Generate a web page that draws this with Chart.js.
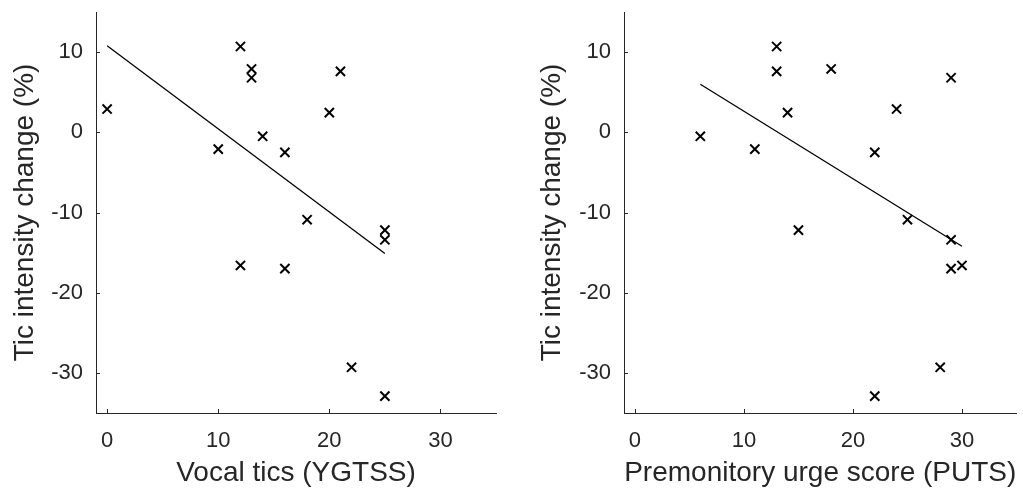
<!DOCTYPE html>
<html>
<head>
<meta charset="utf-8">
<script src="https://cdn.jsdelivr.net/npm/chart.js@4/dist/chart.umd.min.js"></script>
<style>
html,body{margin:0;padding:0;background:#fff;overflow:hidden;}
#w1{position:absolute;left:0;top:0;width:512px;height:490px;}
#w2{position:absolute;left:512px;top:0;width:513px;height:490px;}
</style>
</head>
<body>
<div id="w1"><canvas id="c1" width="512" height="490"></canvas></div>
<div id="w2"><canvas id="c2" width="513" height="490"></canvas></div>
<script>
// values
var ticChange = [2.9, 10.7, 7.9, 6.8, 7.6, 2.45, -2.1, -0.5, -2.5, -10.9, -12.2, -13.4, -16.6, -17.0, -29.3, -32.9];
var vocalTics = [0, 12, 13, 13, 21, 20, 10, 14, 16, 18, 25, 25, 12, 16, 22, 25];
var putsScore = [24, 13, 18, 29, 13, 14, 11, 6, 22, 25, 15, 29, 30, 29, 28, 22];

// least squares lines as drawn in the figure (end points)
var fitVocalX = [0, 25];
var fitVocalY = [10.8, -15.1];
var fitPutsX = [6, 30];
var fitPutsY = [6.0, -14.2];

var xTickVals = [0, 10, 20, 30];
var yTickVals = [-30, -20, -10, 0, 10];
var xRange = [-1, 35];
var yRange = [-35, 15];

var axisCol = '#262626';

function pairs(xs, ys){
  var out = [];
  for (var i=0;i<xs.length;i++){ out.push({x:xs[i], y:ys[i]}); }
  return out;
}

// MATLAB style tick marks that point into the axes
var innerTicks = {
  id: 'innerTicks',
  afterDraw: function(chart){
    var ctx = chart.ctx;
    var xs = chart.scales.x, ys = chart.scales.y;
    ctx.save();
    ctx.strokeStyle = axisCol;
    ctx.lineWidth = 1;
    ctx.beginPath();
    xTickVals.forEach(function(v){
      var px = Math.round(xs.getPixelForValue(v)) + 0.5;
      ctx.moveTo(px, ys.bottom);
      ctx.lineTo(px, ys.bottom - 4);
    });
    yTickVals.forEach(function(v){
      var py = Math.round(ys.getPixelForValue(v)) + 0.5;
      ctx.moveTo(xs.left, py);
      ctx.lineTo(xs.left + 4, py);
    });
    ctx.stroke();
    ctx.restore();
  }
};

function mplot(canId, xs, fitX, fitY, xTitle, yAxisW, yTitlePad, padRight){
  var data = {
    datasets: [{
      type: 'scatter',
      data: pairs(xs, ticChange),
      pointStyle: 'crossRot',
      pointRadius: 6.5,
      pointBorderWidth: 2,
      borderColor: '#000',
      backgroundColor: '#000'
    },{
      type: 'line',
      data: pairs(fitX, fitY),
      borderColor: '#000',
      borderWidth: 1.3,
      pointRadius: 0,
      fill: false,
      tension: 0
    }]
  };

  var options = {
    responsive: false,
    animation: false,
    devicePixelRatio: 1,
    layout: { padding: {left:0, right:padRight, top:12, bottom:0} },
    plugins: { legend: {display:false}, tooltip: {enabled:false} },
    scales: {
      x: {
        type: 'linear',
        min: xRange[0], max: xRange[1],
        afterBuildTicks: function(s){ s.ticks = xTickVals.map(function(v){ return {value:v}; }); },
        afterFit: function(s){ s.height = 77; s.paddingLeft = 0; s.paddingRight = 0; },
        grid: { display:false, drawTicks:false },
        border: { display:true, color:axisCol, width:1 },
        ticks: { color:axisCol, padding:15, maxRotation:0, font:{family:'Liberation Sans', size:22} },
        title: {
          display: true, text: xTitle, color: axisCol,
          font: {family:'Liberation Sans', size:28, lineHeight:1},
          padding: {top:0, bottom:3}
        }
      },
      y: {
        type: 'linear',
        min: yRange[0], max: yRange[1],
        afterBuildTicks: function(s){ s.ticks = yTickVals.map(function(v){ return {value:v}; }); },
        afterFit: function(s){ s.width = yAxisW; s.paddingTop = 0; s.paddingBottom = 0; },
        grid: { display:false, drawTicks:false },
        border: { display:true, color:axisCol, width:1 },
        ticks: { color:axisCol, padding:13, font:{family:'Liberation Sans', size:22} },
        title: {
          display: true, text: 'Tic intensity change (%)', color: axisCol,
          font: {family:'Liberation Sans', size:28, lineHeight:1},
          padding: {top:yTitlePad, bottom:0}
        }
      }
    }
  };

  var c = document.getElementById(canId);
  return new Chart(c.getContext('2d'), { type:'scatter', data:data, options:options, plugins:[innerTicks] });
}

mplot('c1', vocalTics, fitVocalX, fitVocalY, 'Vocal tics (YGTSS)', 96, 11, 16);
mplot('c2', putsScore, fitPutsX, fitPutsY, 'Premonitory urge score (PUTS)', 112, 26, 0);
</script>
</body>
</html>
